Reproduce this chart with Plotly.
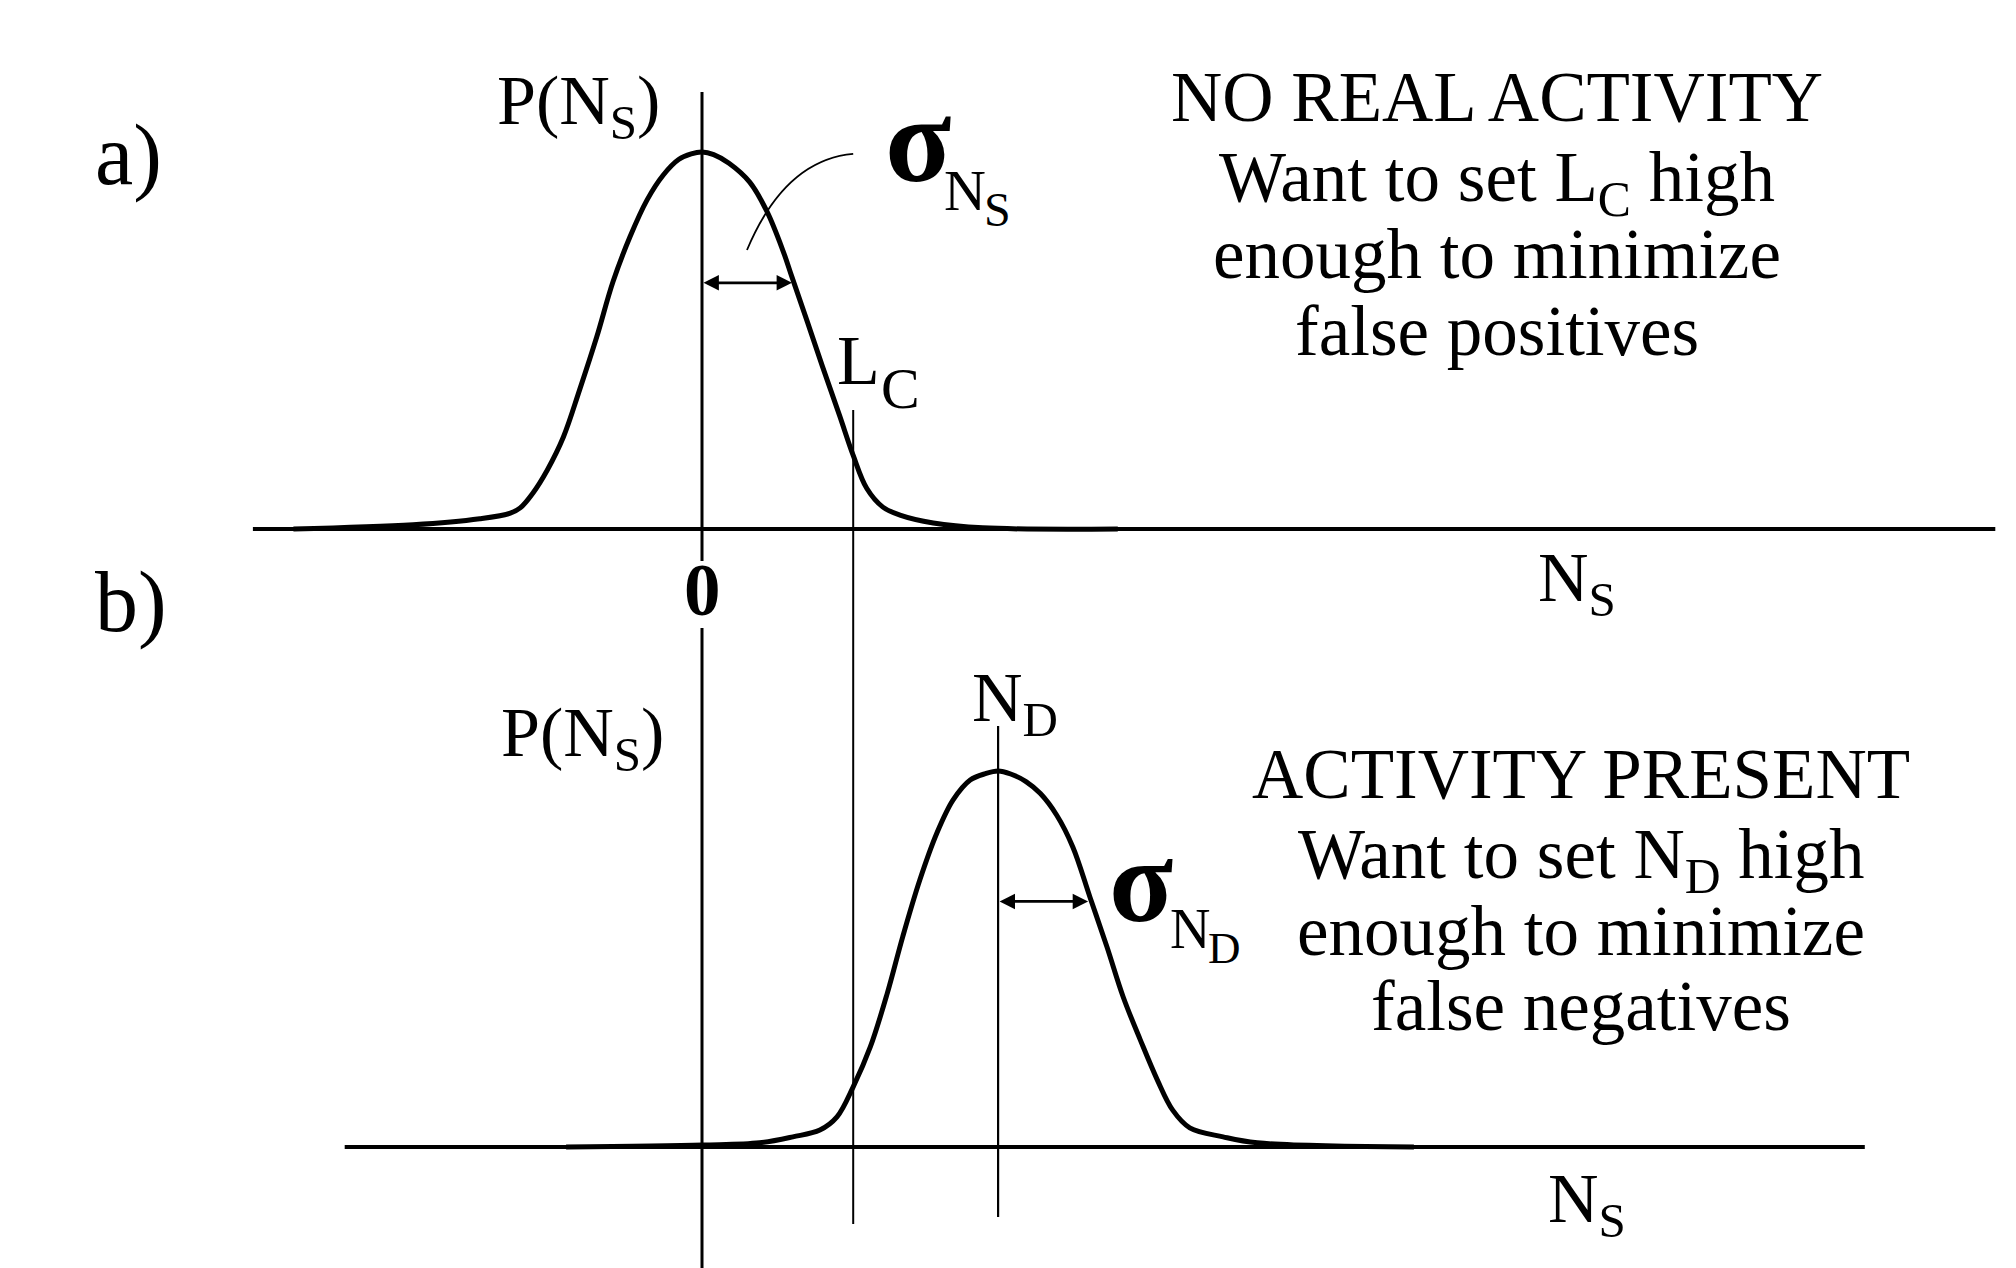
import plotly.graph_objects as go

# ---------------- data (N_S in units of sigma, P normalised to peak = 1) -------------
# panel a: background-only distribution centred on 0
A_X = [-4.54, -3.21, -2.47, -2.13, -2.02, -1.88, -1.72, -1.54, -1.36, -1.17, -0.99,
       -0.80, -0.61, -0.43, -0.26, -0.12, 0.00, 0.13, 0.30, 0.53, 0.72, 0.90, 1.00,
       1.17, 1.34, 1.53, 1.68, 1.83, 2.01, 2.20, 2.57, 3.12, 4.62]
A_Y = [0.000, 0.011, 0.027, 0.042, 0.056, 0.095, 0.156, 0.244, 0.369, 0.509, 0.655,
       0.775, 0.873, 0.939, 0.980, 0.995, 1.000, 0.993, 0.970, 0.920, 0.843, 0.738, 0.668,
       0.550, 0.430, 0.300, 0.195, 0.108, 0.058, 0.037, 0.016, 0.003, 0.000]

# panel b: distribution centred on N_D
B_X = [-1.51, 0.01, 0.64, 1.01, 1.31, 1.50, 1.68, 1.87, 2.06, 2.23, 2.42, 2.61, 2.79,
       2.98, 3.15, 3.29, 3.43, 3.60, 3.76, 3.94, 4.12, 4.31, 4.50, 4.68, 4.87, 5.06,
       5.23, 5.42, 5.79, 6.17, 7.91]
B_Y = [0.000, 0.005, 0.011, 0.027, 0.045, 0.080, 0.160, 0.266, 0.410, 0.559, 0.710,
       0.835, 0.923, 0.976, 0.993, 1.000, 0.992, 0.972, 0.940, 0.883, 0.798, 0.665,
       0.532, 0.399, 0.285, 0.178, 0.098, 0.051, 0.027, 0.011, 0.000]

L_C = 1.68          # critical level
N_D = 3.29          # detection limit
SIGMA = 1.0         # width shown by the double arrows
ARROW_LEVEL = 0.653 # height of sigma arrows
A_AXIS = [-4.99, 14.37]
B_AXIS = [-3.97, 12.92]

# ---------------- layout geometry -------------------------------------------------------
W, H = 2016, 1268
X0_PX, PX_PER_X = 702, 90.0
SPLIT_PX = 600
A_BASE_PX, A_PX_PER_Y = 529, 377.0
B_BASE_PX, B_PX_PER_Y = 1147, 376.0
FONT = "Liberation Serif"

def py(px):  # pixel row -> paper fraction
    return 1 - px / H

xr = [-X0_PX / PX_PER_X, (W - X0_PX) / PX_PER_X]
ya_r = [(A_BASE_PX - SPLIT_PX) / A_PX_PER_Y, A_BASE_PX / A_PX_PER_Y]
yb_r = [(B_BASE_PX - H) / B_PX_PER_Y, (B_BASE_PX - SPLIT_PX) / B_PX_PER_Y]

fig = go.Figure()
fig.add_trace(go.Scatter(x=A_X, y=A_Y, mode="lines", xaxis="x", yaxis="y",
                         line=dict(color="black", width=5, shape="spline", smoothing=1.0),
                         hoverinfo="skip"))
fig.add_trace(go.Scatter(x=B_X, y=B_Y, mode="lines", xaxis="x", yaxis="y2",
                         line=dict(color="black", width=5, shape="spline", smoothing=1.0),
                         hoverinfo="skip"))

shapes = []
# baselines
shapes.append(dict(type="line", xref="x", yref="y", x0=A_AXIS[0], x1=A_AXIS[1], y0=0, y1=0,
                   line=dict(color="black", width=3.8)))
shapes.append(dict(type="line", xref="x", yref="y2", x0=B_AXIS[0], x1=B_AXIS[1], y0=0, y1=0,
                   line=dict(color="black", width=3.8)))
# zero line (interrupted by the "0" label)
shapes.append(dict(type="line", xref="x", yref="paper", x0=0, x1=0, y0=py(92), y1=py(561),
                   line=dict(color="black", width=3)))
shapes.append(dict(type="line", xref="x", yref="paper", x0=0, x1=0, y0=py(628), y1=py(H),
                   line=dict(color="black", width=3)))
# L_C line
shapes.append(dict(type="line", xref="x", yref="paper", x0=L_C, x1=L_C, y0=py(410), y1=py(1224),
                   line=dict(color="black", width=2)))
# N_D line
shapes.append(dict(type="line", xref="x", yref="paper", x0=N_D, x1=N_D, y0=py(726), y1=py(1217),
                   line=dict(color="black", width=2.2)))
# curved leader from sigma label to the arrow
shapes.append(dict(type="path", xref="x", yref="y",
                   path="M 1.68,0.995 Q 0.92,0.979 0.50,0.740",
                   line=dict(color="black", width=1.8)))

fig.update_layout(shapes=shapes)

# sigma arrows
for xc, yref in [(0.0, "y"), (N_D, "y2")]:
    fig.add_annotation(x=xc + SIGMA, y=ARROW_LEVEL, ax=xc, ay=ARROW_LEVEL,
                       xref="x", yref=yref, axref="x", ayref=yref, text="",
                       showarrow=True, arrowside="end+start", arrowhead=2,
                       arrowsize=1.1, arrowwidth=2.8, arrowcolor="black",
                       standoff=0, startstandoff=0)


def txt(s, x_px, base_px, size, bold=False, anchor="left"):
    top = base_px - 0.891 * size
    fig.add_annotation(x=x_px / W, y=py(top), xref="paper", yref="paper",
                       xanchor=anchor, yanchor="top", text=s, showarrow=False,
                       borderpad=0,
                       font=dict(family=FONT, size=size, color="black",
                                 weight="bold" if bold else "normal"))

# panel labels
txt("a)", 94, 183, 86)
txt("b)", 94, 630, 86)
# axis titles
txt("P(N<sub>S</sub>)", 496, 123, 70)
txt("P(N<sub>S</sub>)", 500, 755, 70)
txt("N<sub>S</sub>", 1537, 600, 70)
txt("N<sub>S</sub>", 1547, 1221, 70)
txt("0", X0_PX, 614, 73, bold=True, anchor="center")
# sigma labels
txt("σ", 884, 180, 122, bold=True)
txt("N", 943, 209, 58)
txt("S", 983, 225, 48)
txt("σ", 1108, 920, 118, bold=True)
txt("N", 1169, 947, 56)
txt("D", 1207, 962, 45)
# L_C and N_D labels
txt("L", 836, 383, 70)
txt("C", 880, 407, 58)
txt("N<sub>D</sub>", 971, 720, 70)

# text blocks
BLOCK_A = ["NO REAL ACTIVITY", "Want to set L<sub>C</sub> high", "enough to minimize",
           "false positives"]
BLOCK_B = ["ACTIVITY PRESENT", "Want to set N<sub>D</sub> high", "enough to minimize",
           "false negatives"]
for s, b in zip(BLOCK_A, [120, 200, 277, 354]):
    txt(s, 1497, b, 71, anchor="center")
for s, b in zip(BLOCK_B, [797, 877, 954, 1029]):
    txt(s, 1581, b, 71, anchor="center")

fig.update_layout(
    width=W, height=H, margin=dict(l=0, r=0, t=0, b=0),
    paper_bgcolor="white", plot_bgcolor="white", showlegend=False,
    xaxis=dict(range=xr, domain=[0, 1], anchor="y", visible=False, fixedrange=True),
    yaxis=dict(range=ya_r, domain=[py(SPLIT_PX), 1], anchor="x", visible=False,
               fixedrange=True),
    yaxis2=dict(range=yb_r, domain=[0, py(SPLIT_PX)], anchor="x", visible=False,
                fixedrange=True),
)

fig.write_html("out.html", config={"displayModeBar": False},
               post_script="document.body.style.margin='0';document.body.style.overflow='hidden';")
